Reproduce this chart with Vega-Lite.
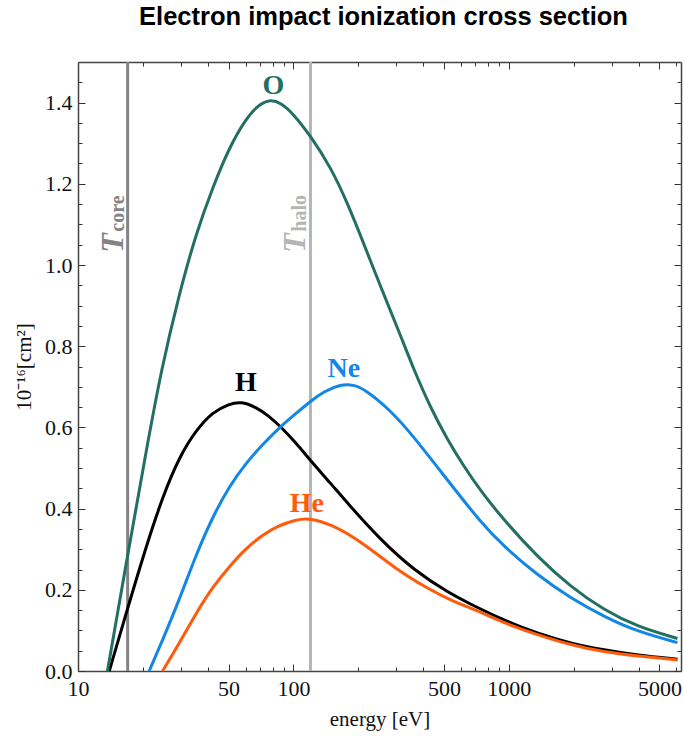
{
  "$schema": "https://vega.github.io/schema/vega-lite/v6.json",
  "width": 603,
  "height": 609,
  "autosize": {"type": "none"},
  "padding": {"left": 78, "top": 62, "right": 2, "bottom": 71},
  "background": "white",
  "config": {
    "view": {"stroke": null},
    "axis": {
      "grid": false,
      "labelFont": "Liberation Serif",
      "labelFontSize": 22,
      "labelColor": "#111111",
      "titleFont": "Liberation Serif",
      "titleFontSize": 21,
      "titleFontWeight": "normal",
      "titleColor": "#111111",
      "domainColor": "#444444",
      "domainWidth": 1.5,
      "tickColor": "#333333",
      "tickWidth": 1
    }
  },
  "title": {
    "text": "Electron impact ionization cross section",
    "font": "Liberation Sans",
    "fontSize": 25.5,
    "fontWeight": "bold",
    "color": "#000000",
    "anchor": "middle",
    "frame": "group",
    "offset": 30,
    "dx": 4
  },
  "datasets": {
    "curves": [
      {"species": "H", "energy": 13.97, "sigma": 0},
      {"species": "H", "energy": 16.9, "sigma": 0.15},
      {"species": "H", "energy": 20.7, "sigma": 0.306},
      {"species": "H", "energy": 24.7, "sigma": 0.429},
      {"species": "H", "energy": 29.5, "sigma": 0.527},
      {"species": "H", "energy": 35.3, "sigma": 0.593},
      {"species": "H", "energy": 42.2, "sigma": 0.638},
      {"species": "H", "energy": 50.4, "sigma": 0.658},
      {"species": "H", "energy": 57, "sigma": 0.664},
      {"species": "H", "energy": 67, "sigma": 0.65},
      {"species": "H", "energy": 77, "sigma": 0.628},
      {"species": "H", "energy": 87.5, "sigma": 0.601},
      {"species": "H", "energy": 102.7, "sigma": 0.562},
      {"species": "H", "energy": 119.7, "sigma": 0.519},
      {"species": "H", "energy": 149, "sigma": 0.462},
      {"species": "H", "energy": 178.5, "sigma": 0.413},
      {"species": "H", "energy": 254.7, "sigma": 0.322},
      {"species": "H", "energy": 363.6, "sigma": 0.248},
      {"species": "H", "energy": 519, "sigma": 0.194},
      {"species": "H", "energy": 741, "sigma": 0.152},
      {"species": "H", "energy": 951, "sigma": 0.125},
      {"species": "H", "energy": 1358, "sigma": 0.092},
      {"species": "H", "energy": 1941, "sigma": 0.068},
      {"species": "H", "energy": 2768, "sigma": 0.052},
      {"species": "H", "energy": 3951, "sigma": 0.039},
      {"species": "H", "energy": 6066, "sigma": 0.029},
      {"species": "O", "energy": 13.7, "sigma": 0},
      {"species": "O", "energy": 16.9, "sigma": 0.278},
      {"species": "O", "energy": 20.7, "sigma": 0.54},
      {"species": "O", "energy": 24.3, "sigma": 0.74},
      {"species": "O", "energy": 29.5, "sigma": 0.929},
      {"species": "O", "energy": 35.3, "sigma": 1.077},
      {"species": "O", "energy": 42.2, "sigma": 1.191},
      {"species": "O", "energy": 50.4, "sigma": 1.29},
      {"species": "O", "energy": 60.2, "sigma": 1.36},
      {"species": "O", "energy": 68, "sigma": 1.392},
      {"species": "O", "energy": 77.2, "sigma": 1.408},
      {"species": "O", "energy": 87.5, "sigma": 1.4},
      {"species": "O", "energy": 100, "sigma": 1.372},
      {"species": "O", "energy": 119.7, "sigma": 1.319},
      {"species": "O", "energy": 149, "sigma": 1.241},
      {"species": "O", "energy": 178.5, "sigma": 1.152},
      {"species": "O", "energy": 213, "sigma": 1.05},
      {"species": "O", "energy": 254.7, "sigma": 0.945},
      {"species": "O", "energy": 304.4, "sigma": 0.845},
      {"species": "O", "energy": 363.6, "sigma": 0.74},
      {"species": "O", "energy": 434.5, "sigma": 0.647},
      {"species": "O", "energy": 519, "sigma": 0.57},
      {"species": "O", "energy": 620, "sigma": 0.503},
      {"species": "O", "energy": 741, "sigma": 0.443},
      {"species": "O", "energy": 951, "sigma": 0.371},
      {"species": "O", "energy": 1358, "sigma": 0.281},
      {"species": "O", "energy": 1941, "sigma": 0.207},
      {"species": "O", "energy": 2768, "sigma": 0.15},
      {"species": "O", "energy": 3951, "sigma": 0.109},
      {"species": "O", "energy": 6066, "sigma": 0.08},
      {"species": "Ne", "energy": 21.4, "sigma": 0},
      {"species": "Ne", "energy": 24.7, "sigma": 0.076},
      {"species": "Ne", "energy": 29.5, "sigma": 0.175},
      {"species": "Ne", "energy": 35.3, "sigma": 0.286},
      {"species": "Ne", "energy": 42.2, "sigma": 0.38},
      {"species": "Ne", "energy": 50.4, "sigma": 0.455},
      {"species": "Ne", "energy": 60.2, "sigma": 0.512},
      {"species": "Ne", "energy": 71.9, "sigma": 0.558},
      {"species": "Ne", "energy": 87.5, "sigma": 0.603},
      {"species": "Ne", "energy": 102.7, "sigma": 0.634},
      {"species": "Ne", "energy": 119.7, "sigma": 0.664},
      {"species": "Ne", "energy": 139, "sigma": 0.689},
      {"species": "Ne", "energy": 166, "sigma": 0.706},
      {"species": "Ne", "energy": 190, "sigma": 0.705},
      {"species": "Ne", "energy": 213, "sigma": 0.695},
      {"species": "Ne", "energy": 283, "sigma": 0.642},
      {"species": "Ne", "energy": 363.6, "sigma": 0.576},
      {"species": "Ne", "energy": 519, "sigma": 0.47},
      {"species": "Ne", "energy": 741, "sigma": 0.366},
      {"species": "Ne", "energy": 951, "sigma": 0.306},
      {"species": "Ne", "energy": 1358, "sigma": 0.236},
      {"species": "Ne", "energy": 1941, "sigma": 0.179},
      {"species": "Ne", "energy": 2768, "sigma": 0.134},
      {"species": "Ne", "energy": 3951, "sigma": 0.097},
      {"species": "Ne", "energy": 6066, "sigma": 0.07},
      {"species": "He", "energy": 24.7, "sigma": 0},
      {"species": "He", "energy": 29.5, "sigma": 0.068},
      {"species": "He", "energy": 35.3, "sigma": 0.142},
      {"species": "He", "energy": 42.2, "sigma": 0.207},
      {"species": "He", "energy": 50.4, "sigma": 0.257},
      {"species": "He", "energy": 60.2, "sigma": 0.302},
      {"species": "He", "energy": 71.9, "sigma": 0.335},
      {"species": "He", "energy": 85.9, "sigma": 0.359},
      {"species": "He", "energy": 102.7, "sigma": 0.372},
      {"species": "He", "energy": 116, "sigma": 0.377},
      {"species": "He", "energy": 149, "sigma": 0.363},
      {"species": "He", "energy": 213, "sigma": 0.314},
      {"species": "He", "energy": 304, "sigma": 0.248},
      {"species": "He", "energy": 434.5, "sigma": 0.199},
      {"species": "He", "energy": 519, "sigma": 0.178},
      {"species": "He", "energy": 741, "sigma": 0.145},
      {"species": "He", "energy": 951, "sigma": 0.118},
      {"species": "He", "energy": 1358, "sigma": 0.089},
      {"species": "He", "energy": 1941, "sigma": 0.064},
      {"species": "He", "energy": 2768, "sigma": 0.047},
      {"species": "He", "energy": 3951, "sigma": 0.037},
      {"species": "He", "energy": 6066, "sigma": 0.027}
    ],
    "names": [
      {"species": "O", "energy": 80.7, "sigma": 1.421},
      {"species": "H", "energy": 60.2, "sigma": 0.689},
      {"species": "Ne", "energy": 171.4, "sigma": 0.723},
      {"species": "He", "energy": 115.5, "sigma": 0.392}
    ],
    "markers": [
      {"species": "core", "energy": 17, "sigma": 1.03, "subsigma": 1.082},
      {"species": "halo", "energy": 120, "sigma": 1.03, "subsigma": 1.082}
    ]
  },
  "resolve": {"axis": {"x": "independent", "y": "independent"}},
  "layer": [
    {
      "data": {"name": "markers"},
      "mark": {"type": "rule", "strokeWidth": 3},
      "encoding": {
        "x": {"field": "energy", "type": "quantitative", "scale": {"type": "log", "domain": [10, 6300], "nice": false}, "axis": null},
        "color": {"field": "species", "type": "nominal", "scale": {"domain": ["H", "He", "Ne", "O", "core", "halo"], "range": ["#000000", "#ff5b0a", "#1287e6", "#236f62", "#848484", "#b5b5b5"]}, "legend": null}
      }
    },
    {
      "data": {"name": "curves"},
      "mark": {"type": "line", "strokeWidth": 3, "interpolate": "basis"},
      "encoding": {
        "x": {
          "field": "energy", "type": "quantitative",
          "scale": {"type": "log", "domain": [10, 6300], "nice": false},
          "axis": {
            "orient": "bottom",
            "values": [10, 20, 30, 40, 50, 60, 70, 80, 90, 100, 200, 300, 400, 500, 600, 700, 800, 900, 1000, 2000, 3000, 4000, 5000, 6000],
            "labelExpr": "indexof([10, 50, 100, 500, 1000, 5000], datum.value) >= 0 ? '' + datum.value : ''",
            "tickSize": {"condition": {"test": "indexof([10, 50, 100, 500, 1000, 5000], datum.value) >= 0", "value": -7}, "value": -4},
            "labelPadding": 14,
            "labelFlush": false,
            "labelOverlap": false,
            "labelBound": false,
            "title": "energy [eV]",
            "titlePadding": 6
          }
        },
        "y": {
          "field": "sigma", "type": "quantitative",
          "scale": {"domain": [0, 1.5], "nice": false, "zero": true},
          "axis": {
            "orient": "left",
            "values": [0, 0.05, 0.1, 0.15, 0.2, 0.25, 0.3, 0.35, 0.4, 0.45, 0.5, 0.55, 0.6, 0.65, 0.7, 0.75, 0.8, 0.85, 0.9, 0.95, 1, 1.05, 1.1, 1.15, 1.2, 1.25, 1.3, 1.35, 1.4, 1.45],
            "labelExpr": "round(datum.value * 20) % 4 == 0 ? format(datum.value, '.1f') : ''",
            "tickSize": {"condition": {"test": "round(datum.value * 20) % 4 == 0", "value": -7}, "value": -4},
            "labelPadding": 13,
            "labelOverlap": false,
            "labelBound": false,
            "labelFlush": false,
            "title": "10⁻¹⁶[cm²]",
            "titlePadding": 10
          }
        },
        "color": {"field": "species", "type": "nominal", "scale": {"domain": ["H", "He", "Ne", "O", "core", "halo"], "range": ["#000000", "#ff5b0a", "#1287e6", "#236f62", "#848484", "#b5b5b5"]}, "legend": null}
      }
    },
    {
      "data": {"name": "names"},
      "mark": {"type": "text", "font": "Liberation Serif", "fontSize": 28, "fontWeight": "bold", "align": "center", "baseline": "alphabetic"},
      "encoding": {
        "x": {
          "field": "energy", "type": "quantitative",
          "scale": {"type": "log", "domain": [10, 6300], "nice": false},
          "axis": {
            "orient": "top",
            "values": [10, 20, 30, 40, 50, 60, 70, 80, 90, 100, 200, 300, 400, 500, 600, 700, 800, 900, 1000, 2000, 3000, 4000, 5000, 6000],
            "labels": false,
            "tickSize": {"condition": {"test": "indexof([10, 50, 100, 500, 1000, 5000], datum.value) >= 0", "value": -7}, "value": -4},
            "title": null
          }
        },
        "y": {
          "field": "sigma", "type": "quantitative",
          "scale": {"domain": [0, 1.5], "nice": false, "zero": true},
          "axis": {
            "orient": "right",
            "values": [0, 0.05, 0.1, 0.15, 0.2, 0.25, 0.3, 0.35, 0.4, 0.45, 0.5, 0.55, 0.6, 0.65, 0.7, 0.75, 0.8, 0.85, 0.9, 0.95, 1, 1.05, 1.1, 1.15, 1.2, 1.25, 1.3, 1.35, 1.4, 1.45],
            "labels": false,
            "tickSize": {"condition": {"test": "round(datum.value * 20) % 4 == 0", "value": -7}, "value": -4},
            "title": null
          }
        },
        "text": {"field": "species"},
        "color": {"field": "species", "type": "nominal", "scale": {"domain": ["H", "He", "Ne", "O", "core", "halo"], "range": ["#000000", "#ff5b0a", "#1287e6", "#236f62", "#848484", "#b5b5b5"]}, "legend": null}
      }
    },
    {
      "data": {"name": "markers"},
      "mark": {"type": "text", "text": "T", "font": "Liberation Serif", "fontSize": 32, "fontWeight": "bold", "fontStyle": "italic", "angle": 270, "align": "left", "baseline": "alphabetic", "dy": -5},
      "encoding": {
        "x": {"field": "energy", "type": "quantitative", "scale": {"type": "log", "domain": [10, 6300], "nice": false}, "axis": null},
        "y": {"field": "sigma", "type": "quantitative", "scale": {"domain": [0, 1.5], "nice": false, "zero": true}, "axis": null},
        "color": {"field": "species", "type": "nominal", "scale": {"domain": ["H", "He", "Ne", "O", "core", "halo"], "range": ["#000000", "#ff5b0a", "#1287e6", "#236f62", "#848484", "#b5b5b5"]}, "legend": null}
      }
    },
    {
      "data": {"name": "markers"},
      "mark": {"type": "text", "font": "Liberation Serif", "fontSize": 20, "fontWeight": "bold", "angle": 270, "align": "left", "baseline": "alphabetic", "dy": -4},
      "encoding": {
        "x": {"field": "energy", "type": "quantitative", "scale": {"type": "log", "domain": [10, 6300], "nice": false}, "axis": null},
        "y": {"field": "subsigma", "type": "quantitative", "scale": {"domain": [0, 1.5], "nice": false, "zero": true}, "axis": null},
        "text": {"field": "species"},
        "color": {"field": "species", "type": "nominal", "scale": {"domain": ["H", "He", "Ne", "O", "core", "halo"], "range": ["#000000", "#ff5b0a", "#1287e6", "#236f62", "#848484", "#b5b5b5"]}, "legend": null}
      }
    }
  ]
}
